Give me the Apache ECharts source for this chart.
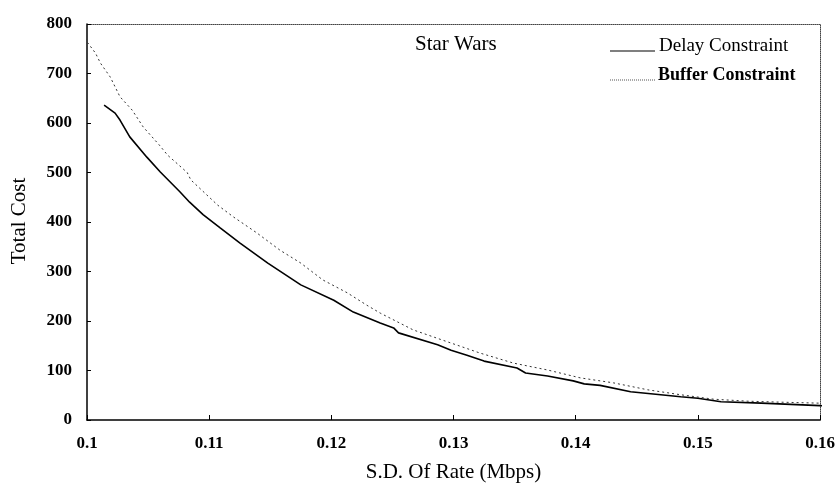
<!DOCTYPE html>
<html>
<head>
<meta charset="utf-8">
<script src="https://cdn.jsdelivr.net/npm/echarts@6/dist/echarts.min.js"></script>
<style>
  html, body { margin: 0; padding: 0; background: #fff; }
  #chart { width: 839px; height: 487px; }
</style>
</head>
<body>
<div id="chart"></div>
<script>
// Total cost against standard deviation of rate, Star Wars trace
const xTicks = [0.1, 0.11, 0.12, 0.13, 0.14, 0.15, 0.16];
const yTicks = [0, 100, 200, 300, 400, 500, 600, 700, 800];

const delaySd = [0.1014, 0.1023, 0.1027, 0.1035, 0.1049, 0.1060, 0.1076, 0.1084, 0.1095, 0.1109,
  0.1125, 0.1148, 0.1175, 0.1202, 0.1218, 0.1240, 0.1251, 0.1255, 0.1287, 0.1298,
  0.1311, 0.1325, 0.1352, 0.1359, 0.1377, 0.1398, 0.1407, 0.1420, 0.1445, 0.1486,
  0.1500, 0.1519, 0.1552, 0.1600, 0.1609];
const delayCost = [636, 620, 606, 572, 531, 501, 461, 440, 415, 388,
  358, 317, 273, 242, 218, 196, 186, 176, 152, 141,
  131, 119, 105, 95, 89, 79, 73, 70, 57, 47,
  44, 37, 34, 29, 28];

const bufferSd = [0.0995, 0.1000, 0.1007, 0.1011, 0.1019, 0.1027, 0.1037, 0.1046, 0.1059, 0.1066,
  0.1082, 0.1085, 0.1107, 0.1120, 0.1139, 0.1158, 0.1175, 0.1193, 0.1213, 0.1229,
  0.1240, 0.1267, 0.1295, 0.1322, 0.1349, 0.1377, 0.1404, 0.1431, 0.1459, 0.1486,
  0.1513, 0.1541, 0.1568, 0.1600, 0.1609];
const bufferCost = [790, 764, 741, 721, 693, 653, 626, 592, 556, 535,
  500, 485, 434, 410, 378, 343, 317, 283, 257, 232,
  216, 182, 158, 135, 115, 101, 85, 75, 61, 51,
  42, 38, 36, 34, 33];

const seriesNames = ['Delay Constraint', 'Buffer Constraint'];
const chartTitle = 'Star Wars';
const xName = 'S.D. Of Rate (Mbps)';
const yName = 'Total Cost';

const pairs = (xs, ys) => xs.map((x, i) => [x, ys[i]]);
const serif = '"Liberation Serif", "Times New Roman", serif';

const chart = echarts.init(document.getElementById('chart'), null, { renderer: 'canvas' });

chart.setOption({
  animation: false,
  backgroundColor: '#ffffff',
  grid: { left: 87, top: 24, right: 19, bottom: 67, containLabel: false, outerBoundsMode: 'none' },
  xAxis: [{
    type: 'value',
    min: xTicks[0], max: xTicks[xTicks.length - 1], interval: 0.01,
    name: xName, nameLocation: 'middle', nameGap: 42,
    nameTextStyle: { fontFamily: serif, fontSize: 21, color: '#000' },
    axisLine: { onZero: false, lineStyle: { color: '#000', width: 1.5 } },
    axisTick: { inside: true, length: 5, lineStyle: { color: '#000' } },
    axisLabel: {
      margin: 15, fontFamily: serif, fontSize: 17, fontWeight: 'bold', color: '#000',
      formatter: v => String(+v.toFixed(2))
    },
    splitLine: { show: false }
  }, {
    type: 'value', position: 'top',
    min: xTicks[0], max: xTicks[xTicks.length - 1], interval: 0.01,
    axisLine: { onZero: false, lineStyle: { color: '#444', width: 1, type: [1, 1] } },
    axisTick: { show: false }, axisLabel: { show: false }, splitLine: { show: false }
  }],
  yAxis: [{
    type: 'value',
    min: yTicks[0], max: yTicks[yTicks.length - 1], interval: 100,
    axisLine: { show: true, onZero: false, lineStyle: { color: '#000', width: 1.5 } },
    axisTick: { show: true, inside: true, length: 4, lineStyle: { color: '#000' } },
    axisLabel: {
      margin: 15, fontFamily: serif, fontSize: 17, fontWeight: 'bold', color: '#000',
      padding: [0, 0, 8, 0]
    },
    splitLine: { show: false }
  }, {
    type: 'value', position: 'right',
    min: yTicks[0], max: yTicks[yTicks.length - 1], interval: 100,
    axisLine: { show: true, onZero: false, lineStyle: { color: '#444', width: 1, type: [1, 1] } },
    axisTick: { show: false }, axisLabel: { show: false }, splitLine: { show: false }
  }],
  series: [{
    name: seriesNames[0], type: 'line', xAxisIndex: 0, yAxisIndex: 0,
    data: pairs(delaySd, delayCost),
    showSymbol: false, clip: false, smooth: false,
    lineStyle: { color: '#000', width: 1.6 }
  }, {
    name: seriesNames[1], type: 'line', xAxisIndex: 0, yAxisIndex: 0,
    data: pairs(bufferSd, bufferCost),
    showSymbol: false, clip: false, smooth: false,
    lineStyle: { color: '#333', width: 1, type: [2, 3] }
  }],
  graphic: [
    {
      type: 'text', x: 19, y: 221, rotation: Math.PI / 2,
      style: { text: yName, font: '21px ' + serif, fill: '#000', align: 'center', verticalAlign: 'middle' }
    },
    {
      type: 'text', x: 415, y: 44,
      style: { text: chartTitle, font: '21px ' + serif, fill: '#000', align: 'left', verticalAlign: 'middle' }
    },
    {
      type: 'line', shape: { x1: 610, y1: 51, x2: 655, y2: 51 },
      style: { stroke: '#000', lineWidth: 1.2 }
    },
    {
      type: 'text', x: 659, y: 46,
      style: { text: seriesNames[0], font: '19px ' + serif, fill: '#000', align: 'left', verticalAlign: 'middle' }
    },
    {
      type: 'line', shape: { x1: 610, y1: 80, x2: 655, y2: 80 },
      style: { stroke: '#555', lineWidth: 1, lineDash: [1, 1] }
    },
    {
      type: 'text', x: 658, y: 75,
      style: { text: seriesNames[1], font: 'bold 18px ' + serif, fill: '#000', align: 'left', verticalAlign: 'middle' }
    }
  ]
});
</script>
</body>
</html>
